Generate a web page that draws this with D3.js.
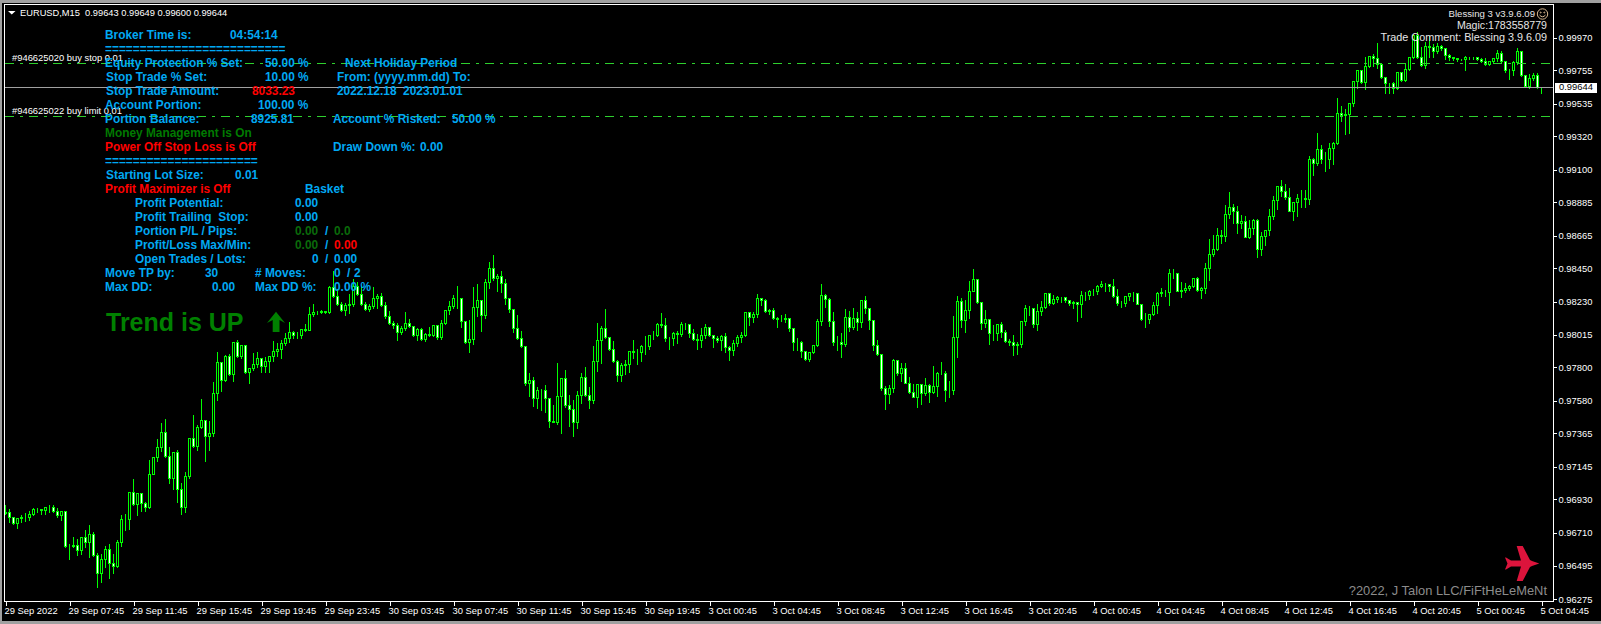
<!DOCTYPE html>
<html><head><meta charset="utf-8">
<script src="https://cdn.jsdelivr.net/npm/d3@7"></script>
<style>html,body{margin:0;padding:0;background:#000;overflow:hidden}svg{display:block}text{font-family:"Liberation Sans",Arial,sans-serif}</style>
</head><body><svg id="c" width="1601" height="624"></svg>
<script>
// prices in points (1e-5)
const closes=[96845,96810,96770,96805,96810,96814,96832,96862,96862,96856,96876,96880,96854,96823,96849,96623,96623,96627,96596,96682,96649,96697,96561,96444,96532,96598,96510,96491,96647,96796,96796,96979,96898,96966,96906,96876,97093,97208,97272,97371,97210,97067,97239,96994,96876,97080,97333,97276,97404,97450,97342,97364,97628,97833,97712,97872,97753,97962,97870,97945,97764,97793,97819,97859,97804,97835,97874,97901,97914,97954,97987,98029,98011,98011,98051,98042,98147,98161,98161,98165,98161,98326,98264,98216,98172,98205,98213,98330,98279,98213,98183,98198,98253,98266,98205,98132,98088,98077,98029,98055,98088,98066,98007,98051,97985,98015,98011,98075,97993,98088,98174,98200,98253,98251,98099,97960,97985,98194,98240,98139,98359,98451,98383,98400,98350,98251,98180,98053,97987,97934,97690,97712,97597,97646,97646,97597,97446,97439,97606,97725,97551,97523,97439,97613,97732,97613,97584,97837,97976,98057,97993,97914,97835,97743,97811,97817,97903,97897,97899,97936,97936,98009,98009,98084,98077,97987,97989,98022,98013,98084,98081,98020,97985,97974,98009,98062,98007,97987,97974,98000,97930,97908,97956,97996,98009,98161,98125,98150,98253,98238,98165,98172,98121,98117,98114,98119,98053,97960,97963,97903,97850,97899,97943,98101,98273,98246,98099,97960,97963,97947,98128,98059,98121,98092,98242,98185,98108,97941,97881,97663,97624,97659,97844,97762,97789,97696,97637,97604,97685,97630,97679,97635,97672,97758,97762,97650,97648,97996,98233,98106,98174,98301,98378,98224,98086,98114,98020,98020,98081,98026,97967,97965,97941,97947,98103,98187,98189,98084,98167,98191,98286,98218,98246,98262,98260,98240,98218,98227,98211,98273,98271,98301,98301,98332,98345,98345,98334,98264,98218,98222,98266,98286,98286,98213,98114,98114,98150,98207,98286,98290,98293,98418,98416,98301,98304,98319,98334,98385,98304,98318,98450,98543,98576,98668,98659,98804,98853,98824,98749,98758,98657,98712,98767,98578,98659,98701,98791,98897,98989,98954,98914,98826,98884,98910,98910,98901,99167,99141,99231,99165,99170,99240,99273,99469,99460,99465,99535,99682,99755,99671,99781,99843,99830,99795,99707,99667,99667,99632,99740,99687,99759,99839,99986,99839,99784,99913,99902,99876,99909,99898,99854,99839,99830,99825,99825,99839,99839,99839,99825,99812,99792,99812,99832,99865,99812,99751,99751,99806,99876,99720,99645,99702,99720,99641,99644];
const opens=[96840,96845,96810,96770,96805,96810,96814,96832,96862,96862,96856,96876,96880,96854,96823,96849,96623,96623,96627,96596,96682,96649,96697,96561,96444,96532,96598,96510,96491,96647,96796,96796,96979,96898,96966,96906,96876,97093,97208,97272,97371,97210,97067,97239,96994,96876,97080,97333,97276,97404,97450,97342,97364,97628,97833,97712,97872,97753,97962,97870,97945,97764,97793,97819,97859,97804,97835,97874,97901,97914,97954,97987,98029,98011,98011,98051,98042,98147,98161,98161,98165,98161,98326,98264,98216,98172,98205,98213,98330,98279,98213,98183,98198,98253,98266,98205,98132,98088,98077,98029,98055,98088,98066,98007,98051,97985,98015,98011,98075,97993,98088,98174,98200,98253,98251,98099,97960,97985,98194,98240,98139,98359,98451,98383,98400,98350,98251,98180,98053,97987,97934,97690,97712,97597,97646,97646,97597,97446,97439,97606,97725,97551,97523,97439,97613,97732,97613,97584,97837,97976,98057,97993,97914,97835,97743,97811,97817,97903,97897,97899,97936,97936,98009,98009,98084,98077,97987,97989,98022,98013,98084,98081,98020,97985,97974,98009,98062,98007,97987,97974,98000,97930,97908,97956,97996,98009,98161,98125,98150,98253,98238,98165,98172,98121,98117,98114,98119,98053,97960,97963,97903,97850,97899,97943,98101,98273,98246,98099,97960,97963,97947,98128,98059,98121,98092,98242,98185,98108,97941,97881,97663,97624,97659,97844,97762,97789,97696,97637,97604,97685,97630,97679,97635,97672,97758,97762,97650,97648,97996,98233,98106,98174,98301,98378,98224,98086,98114,98020,98020,98081,98026,97967,97965,97941,97947,98103,98187,98189,98084,98167,98191,98286,98218,98246,98262,98260,98240,98218,98227,98211,98273,98271,98301,98301,98332,98345,98345,98334,98264,98218,98222,98266,98286,98286,98213,98114,98114,98150,98207,98286,98290,98293,98418,98416,98301,98304,98319,98334,98385,98304,98318,98450,98543,98576,98668,98659,98804,98853,98824,98749,98758,98657,98712,98767,98578,98659,98701,98791,98897,98989,98954,98914,98826,98884,98910,98910,98901,99167,99141,99231,99165,99170,99240,99273,99469,99460,99465,99535,99682,99755,99671,99781,99843,99830,99795,99707,99667,99667,99632,99740,99687,99759,99839,99986,99839,99784,99913,99902,99876,99909,99898,99854,99839,99830,99825,99825,99839,99839,99839,99825,99812,99792,99812,99832,99865,99812,99751,99751,99806,99876,99720,99645,99702,99720,99641];
const highs=[96898,96869,96814,96814,96832,96845,96858,96880,96876,96869,96884,96898,96895,96876,96858,96858,96638,96686,96671,96686,96730,96766,96717,96583,96572,96627,96638,96576,96664,96832,96840,96983,97067,96968,96968,96917,97192,97214,97333,97439,97463,97280,97243,97261,97043,97111,97338,97492,97426,97597,97452,97448,97705,97901,97837,97883,97888,97967,97980,97949,97947,97800,97896,97901,97866,97874,97879,97976,97962,97980,98028,98099,98044,98033,98055,98088,98198,98220,98176,98180,98169,98341,98440,98319,98231,98227,98286,98385,98363,98345,98231,98220,98330,98286,98293,98231,98176,98110,98092,98077,98169,98123,98075,98062,98062,98031,98070,98077,98081,98117,98176,98242,98279,98339,98235,98110,98117,98334,98348,98246,98387,98499,98539,98418,98440,98381,98253,98185,98150,98044,97945,97765,97740,97674,97659,97688,97604,97556,97833,97732,97784,97622,97586,97648,97767,97806,97674,97945,98095,98073,98187,97993,97978,97850,97831,97850,97908,97985,97921,97952,98011,98015,98044,98097,98163,98130,98000,98037,98044,98103,98092,98088,98057,98022,98062,98090,98070,98015,98009,98015,98029,97945,97985,98018,98037,98169,98165,98165,98288,98260,98255,98187,98194,98132,98150,98154,98130,98057,97996,97978,97912,97905,97945,98121,98348,98286,98260,98169,98011,98029,98187,98176,98194,98165,98246,98273,98194,98114,97985,97890,97681,97685,97857,97850,97833,97833,97740,97692,97688,97692,97734,97692,97811,97771,97839,97780,97714,98143,98275,98262,98246,98372,98447,98378,98224,98183,98121,98081,98084,98103,98048,97989,98018,97969,98110,98213,98205,98176,98220,98242,98290,98293,98279,98271,98268,98253,98242,98238,98231,98308,98301,98312,98315,98345,98372,98359,98343,98381,98321,98242,98275,98295,98297,98286,98211,98163,98154,98235,98301,98326,98312,98447,98453,98425,98367,98359,98345,98392,98396,98331,98488,98648,98675,98721,98705,98873,98958,98879,98864,98807,98798,98774,98778,98780,98694,98708,98848,98932,98998,99038,99011,98985,98892,98945,98969,98972,99196,99178,99348,99269,99218,99277,99284,99575,99524,99502,99542,99687,99759,99759,99843,99847,99865,99938,99803,99704,99671,99678,99744,99744,99799,99847,99990,100008,99909,99942,99986,99931,99935,99927,99905,99865,99839,99834,99834,99852,99847,99847,99847,99839,99839,99821,99839,99891,99883,99821,99766,99821,99905,99887,99729,99733,99737,99737,99649];
const lows=[96832,96781,96766,96739,96781,96788,96792,96823,96845,96832,96832,96847,96845,96814,96792,96616,96535,96616,96563,96568,96616,96550,96554,96352,96383,96480,96409,96444,96480,96620,96726,96735,96891,96825,96851,96854,96871,97091,97177,97243,97206,97038,96994,96911,96832,96845,97071,97272,97250,97397,97181,97254,97346,97584,97643,97705,97749,97705,97866,97859,97756,97690,97778,97800,97764,97764,97764,97835,97870,97859,97940,97962,97989,97989,97989,98033,98055,98132,98147,98154,98152,98152,98260,98209,98165,98139,98154,98202,98275,98209,98172,98165,98187,98187,98198,98121,98084,98055,97978,98018,98044,98059,98004,97978,97978,97971,98000,98004,97985,97985,98084,98150,98187,98187,98062,97954,97899,97952,98136,98037,98123,98321,98374,98297,98295,98216,98158,98031,97985,97930,97681,97608,97542,97531,97516,97505,97406,97437,97424,97366,97538,97410,97347,97399,97564,97608,97531,97564,97769,97828,97987,97908,97833,97703,97703,97754,97767,97857,97820,97839,97886,97919,97985,98004,98062,97967,97919,97945,97954,98004,98048,97993,97978,97914,97932,97989,98002,97927,97963,97912,97894,97846,97879,97938,97965,98004,98077,98095,98130,98205,98158,98150,98117,98064,98099,98097,98037,97912,97912,97864,97846,97839,97890,97934,98077,98196,98070,97945,97912,97866,97938,98037,98048,98044,98062,98154,98051,97912,97875,97648,97523,97562,97635,97743,97707,97692,97630,97600,97538,97556,97617,97569,97630,97608,97754,97575,97602,97622,97866,98062,98026,98123,98297,98218,98051,98064,97952,97978,97978,97998,97960,97945,97879,97886,97932,98077,98141,98062,98044,98139,98187,98209,98213,98229,98224,98227,98207,98185,98099,98125,98242,98246,98275,98282,98326,98301,98301,98260,98207,98196,98198,98242,98233,98211,98110,98059,98088,98139,98156,98264,98268,98209,98385,98297,98257,98290,98304,98323,98297,98252,98283,98371,98529,98569,98617,98628,98782,98747,98681,98710,98653,98648,98675,98525,98536,98602,98668,98774,98837,98921,98906,98822,98767,98791,98853,98853,98873,99064,99126,99141,99090,99108,99137,99264,99418,99333,99337,99513,99634,99667,99627,99773,99777,99766,99700,99601,99601,99601,99627,99682,99678,99755,99832,99832,99777,99766,99839,99839,99865,99887,99825,99821,99821,99814,99817,99751,99828,99828,99817,99803,99788,99788,99806,99810,99808,99737,99693,99722,99795,99711,99638,99634,99689,99632,99600];
const priceTicks=[99970,99755,99535,99320,99100,98885,98665,98450,98230,98015,97800,97580,97365,97145,96930,96710,96495,96275];
const timeLabels=["29 Sep 2022","29 Sep 07:45","29 Sep 11:45","29 Sep 15:45","29 Sep 19:45","29 Sep 23:45","30 Sep 03:45","30 Sep 07:45","30 Sep 11:45","30 Sep 15:45","30 Sep 19:45","3 Oct 00:45","3 Oct 04:45","3 Oct 08:45","3 Oct 12:45","3 Oct 16:45","3 Oct 20:45","4 Oct 00:45","4 Oct 04:45","4 Oct 08:45","4 Oct 12:45","4 Oct 16:45","4 Oct 20:45","5 Oct 00:45","5 Oct 04:45"];
const orderLevels=[99802,99450];
const orderLabels=["#946625020 buy stop 0.01","#946625022 buy limit 0.01"];
const lastPrice=99644;
const BLUE="#00a8f3",RED="#ff0000",DG="#007a00",FG="#0a6a0a";
const panel=[
["Broker Time is:",105,34.5,BLUE],["04:54:14",230,34.5,BLUE],
["==========================",105,48.5,BLUE],
["Equity Protection % Set:",105,62.5,BLUE],["50.00 %",265,62.5,BLUE],["Next Holiday Period",345,62.5,BLUE],
["Stop Trade % Set:",106,76.5,BLUE],["10.00 %",265,76.5,BLUE],["From: (yyyy.mm.dd) To:",337,76.5,BLUE],
["Stop Trade Amount:",106,90.5,BLUE],["8033.23",252,90.5,RED],["2022.12.18  2023.01.01",337,90.5,BLUE],
["Account Portion:",105,104.5,BLUE],["100.00 %",258,104.5,BLUE],
["Portion Balance:",105,118.5,BLUE],["8925.81",251,118.5,BLUE],["Account % Risked:",333,118.5,BLUE],["50.00 %",452,118.5,BLUE],
["Money Management is On",105,132.5,DG],
["Power Off Stop Loss is Off",105,146.5,RED],["Draw Down %:",333,146.5,BLUE],["0.00",420,146.5,BLUE],
["======================",105,160.5,BLUE],
["Starting Lot Size:",106,174.5,BLUE],["0.01",235,174.5,BLUE],
["Profit Maximizer is Off",105,188.5,RED],["Basket",305,188.5,BLUE],
["Profit Potential:",135,202.5,BLUE],["0.00",295,202.5,BLUE],
["Profit Trailing  Stop:",135,216.5,BLUE],["0.00",295,216.5,BLUE],
["Portion P/L / Pips:",135,230.5,BLUE],["0.00",295,230.5,FG],["/",325,230.5,BLUE],["0.0",334,230.5,FG],
["Profit/Loss Max/Min:",135,244.5,BLUE],["0.00",295,244.5,FG],["/",325,244.5,BLUE],["0.00",334,244.5,RED],
["Open Trades / Lots:",135,258.5,BLUE],["0",312,258.5,BLUE],["/",325,258.5,BLUE],["0.00",334,258.5,BLUE],
["Move TP by:",105,272.5,BLUE],["30",205,272.5,BLUE],["# Moves:",255,272.5,BLUE],["0",334,272.5,BLUE],["/",347,272.5,BLUE],["2",354,272.5,BLUE],
["Max DD:",105,286.5,BLUE],["0.00",212,286.5,BLUE],["Max DD %:",255,286.5,BLUE],["0.00 %",334,286.5,BLUE]
];

const svg=d3.select("#c");
const L=4.5,R=1553.5,T=4.5,B=601.5;
svg.append("rect").attr("width",1601).attr("height",624).attr("fill","#a0a0a0");
svg.append("rect").attr("x",2).attr("y",3).attr("width",1599).attr("height",618).attr("fill","#000");

const x=d3.scaleLinear().domain([0,closes.length-1]).range([5.5,1541.5]);
const y=d3.scaleLinear().domain([99970,96275]).range([37.5,599]);
const py=v=>Math.round(y(v)-0.5)+0.5;

// candles
const g=svg.append("g").attr("shape-rendering","crispEdges");
const idx=d3.range(closes.length);
g.selectAll("path.w").data(idx).join("path").attr("class","w")
 .attr("d",i=>`M${x(i)},${py(highs[i])}V${py(lows[i])+0.5}`).attr("stroke","#00ff00").attr("stroke-width",1).attr("fill","none");
g.selectAll("rect.b").data(idx).join("rect").attr("class","b")
 .attr("x",i=>x(i)-1).attr("width",2)
 .attr("y",i=>py(Math.max(opens[i],closes[i])))
 .attr("height",i=>Math.max(0,py(Math.min(opens[i],closes[i]))-py(Math.max(opens[i],closes[i]))))
 .attr("fill",i=>closes[i]<opens[i]?"#fff":"#000").attr("stroke","#00ff00");

// order + bid lines
svg.append("g").selectAll("line").data(orderLevels).join("line")
 .attr("x1",5).attr("x2",1553).attr("y1",d=>py(d)).attr("y2",d=>py(d))
 .attr("stroke","#2ed02e").attr("stroke-dasharray","9 6 3 6").attr("shape-rendering","crispEdges");
svg.append("line").attr("x1",5).attr("x2",1553).attr("y1",py(lastPrice)).attr("y2",py(lastPrice))
 .attr("stroke","#a0a0a0").attr("shape-rendering","crispEdges");

// frame
svg.append("rect").attr("x",L).attr("y",T).attr("width",R-L).attr("height",B-T).attr("fill","none").attr("stroke","#fff").attr("shape-rendering","crispEdges");

// axes
const ax=svg.append("g").attr("transform",`translate(${R},0)`).call(
  d3.axisRight(y).tickValues(priceTicks).tickSize(3).tickPadding(3).tickFormat(d=>(d/1e5).toFixed(5)));
ax.select(".domain").remove();
ax.selectAll("line").attr("stroke","#fff").attr("shape-rendering","crispEdges");
ax.selectAll("text").attr("fill","#fff").style("font-size","9.4px").attr("x",5);
const bx=svg.append("g").attr("transform",`translate(0,${B})`).call(
  d3.axisBottom(x).tickValues(timeLabels.map((_,k)=>k*16)).tickSize(4).tickPadding(3).tickFormat((_,k)=>timeLabels[k]));
bx.select(".domain").remove();
bx.selectAll("line").attr("stroke","#fff").attr("shape-rendering","crispEdges");
bx.selectAll("text").attr("fill","#fff").style("font-size","9.4px").attr("text-anchor","start").attr("x",-1.5).attr("y",6).attr("dy","0.71em");

// last price tag
svg.append("rect").attr("x",1555).attr("y",py(lastPrice)-4.5).attr("width",42).attr("height",10).attr("fill","#fff");
svg.append("text").attr("x",1559).attr("y",py(lastPrice)+0.5).attr("dominant-baseline","middle").attr("fill","#000").style("font-size","9.4px").text((lastPrice/1e5).toFixed(5));

// header
svg.append("path").attr("d","M8,11H15.5L11.75,14.5Z").attr("fill","#fff");
svg.append("text").attr("x",20).attr("y",16).attr("fill","#fff").style("font-size","9.3px").style("white-space","pre").text("EURUSD,M15  0.99643 0.99649 0.99600 0.99644");

// order labels
svg.append("g").selectAll("text").data(orderLabels).join("text")
 .attr("x",12).attr("y",(d,i)=>py(orderLevels[i])-3).attr("fill","#fff").style("font-size","9.4px").text(d=>d);

// info panel
svg.append("g").selectAll("text").data(panel).join("text")
 .attr("x",d=>d[1]).attr("y",d=>d[2]+4.2).attr("fill",d=>d[3])
 .style("font-size","11.9px").style("font-weight","bold").style("white-space","pre").text(d=>d[0]);

// trend
svg.append("text").attr("x",106).attr("y",331).attr("fill","#008000").style("font-size","25px").style("font-weight","bold").text("Trend is UP");
svg.append("path").attr("d","M276,311.7L285,323L279.5,320V332H272.7V320L267,323Z").attr("fill","#008000");

// top-right info
const tr=svg.append("g").attr("fill","#e6e6e6").attr("text-anchor","end");
tr.append("text").attr("x",1535).attr("y",17).style("font-size","9.6px").text("Blessing 3 v3.9.6.09");
tr.append("text").attr("x",1547).attr("y",29).style("font-size","10.6px").text("Magic:1783558779");
tr.append("text").attr("x",1547).attr("y",41).style("font-size","10.8px").text("Trade Comment: Blessing 3.9.6.09");
const sm=svg.append("g").attr("transform","translate(1542.5,14)").attr("fill","none").attr("stroke","#d8b890");
sm.append("circle").attr("r",5.2);
sm.append("path").attr("d","M-3,1Q0,4.5 3,1");
sm.append("circle").attr("cx",-1.8).attr("cy",-1.5).attr("r",0.5);
sm.append("circle").attr("cx",1.8).attr("cy",-1.5).attr("r",0.5);

// copyright + plane
svg.append("text").attr("x",1547).attr("y",595).attr("text-anchor","end").attr("fill","#8c8c8c").style("font-size","12.9px").text("?2022, J Talon LLC/FiFtHeLeMeNt");
svg.append("path").attr("fill","#dc143c").attr("d","M1539.3,563.5L1532,561L1530,560L1522.7,546L1516.7,546L1521,560.5L1511,560.5L1506,557.5L1505,557.5L1507.5,563.5L1505,569.5L1506,569.5L1511,566.5L1521,566.5L1516.7,581L1522.7,581L1530,567L1532,566Z");
</script></body></html>
